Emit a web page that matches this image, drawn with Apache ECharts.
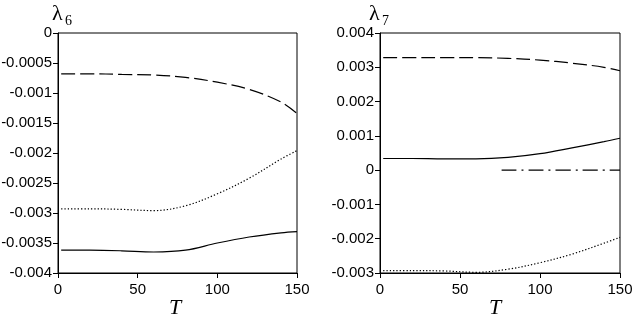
<!DOCTYPE html>
<html>
<head>
<meta charset="utf-8">
<script src="https://cdn.jsdelivr.net/npm/echarts@6/dist/echarts.min.js"></script>
<style>
  html, body { margin: 0; padding: 0; background: #fff; }
</style>
</head>
<body>
<div id="myChart" style="width: 632px; height: 328px;"></div>
<script>
// sample points along T
const tValues = [2, 20, 40, 60, 80, 100, 120, 140, 150];

// lambda 6 panel
const l6Dashed = [-0.00068, -0.00068, -0.00069, -0.0007, -0.00074, -0.00082, -0.00094, -0.00115, -0.00134];
const l6Dotted = [-0.00293, -0.00293, -0.00294, -0.00296, -0.00288, -0.00268, -0.00242, -0.0021, -0.00196];
const l6Solid = [-0.00362, -0.00362, -0.00363, -0.00365, -0.00362, -0.0035, -0.0034, -0.00333, -0.00331];

// lambda 7 panel
const l7Dashed = [0.00328, 0.00328, 0.00328, 0.00328, 0.00326, 0.00321, 0.00312, 0.003, 0.0029];
const l7Solid = [0.00034, 0.00034, 0.00033, 0.00033, 0.00037, 0.00048, 0.00065, 0.00083, 0.00093];
const l7Dotted = [-0.00293, -0.00293, -0.00294, -0.00298, -0.00289, -0.0027, -0.00245, -0.00213, -0.00196];
const dashDotT = [76, 150];
const dashDotVals = [0, 0];

// axis ticks
const xTicks = { min: 0, max: 150, interval: 50 };
const l6Ticks = { min: -0.004, max: 0, interval: 0.0005 };
const l7Ticks = { min: -0.003, max: 0.004, interval: 0.001 };

function pairs(xs, ys) {
  return xs.map((x, i) => [x, ys[i]]);
}

const labelFont = {
  color: '#000',
  fontSize: 15,
  fontFamily: 'Liberation Sans',
};

function xAxis(gridIndex) {
  return {
    type: 'value',
    gridIndex: gridIndex,
    min: xTicks.min,
    max: xTicks.max,
    interval: xTicks.interval,
    axisLine: { show: true, onZero: false, lineStyle: { color: '#000', width: 1 } },
    axisTick: { show: true, length: 5, lineStyle: { color: '#000' } },
    axisLabel: Object.assign({ margin: 9 }, labelFont),
    splitLine: { show: false },
  };
}

function yAxis(gridIndex, ticks) {
  return {
    type: 'value',
    gridIndex: gridIndex,
    min: ticks.min,
    max: ticks.max,
    interval: ticks.interval,
    axisLine: { show: true, onZero: false, lineStyle: { color: '#000', width: 1 } },
    axisTick: { show: true, length: 5, lineStyle: { color: '#000' } },
    axisLabel: Object.assign({ margin: 6 }, labelFont),
    splitLine: { show: false },
  };
}

function line(name, xIdx, data, type) {
  return {
    name: name,
    type: 'line',
    xAxisIndex: xIdx,
    yAxisIndex: xIdx,
    data: data,
    smooth: 0.35,
    symbol: 'none',
    lineStyle: { color: '#000', width: 1.2, type: type },
    z: 3,
  };
}

const mychart = echarts.init(document.getElementById('myChart'));
const serif = 'Liberation Serif';
const options = {
  animation: false,
  backgroundColor: '#fff',
  grid: [
    { left: 58, top: 33, width: 239, height: 240, show: true, borderColor: '#000', borderWidth: 1, containLabel: false, outerBoundsMode: 'none' },
    { left: 380, top: 33, width: 240, height: 240, show: true, borderColor: '#000', borderWidth: 1, containLabel: false, outerBoundsMode: 'none' },
  ],
  xAxis: [xAxis(0), xAxis(1)],
  yAxis: [yAxis(0, l6Ticks), yAxis(1, l7Ticks)],
  graphic: [
    { type: 'text', left: 52, top: 3, style: { text: 'λ', font: '22px ' + serif, fill: '#000' } },
    { type: 'text', left: 65, top: 14, style: { text: '6', font: '14px ' + serif, fill: '#000' } },
    { type: 'text', left: 369, top: 3, style: { text: 'λ', font: '22px ' + serif, fill: '#000' } },
    { type: 'text', left: 382, top: 14, style: { text: '7', font: '14px ' + serif, fill: '#000' } },
    { type: 'text', left: 169, top: 297, style: { text: 'T', font: 'italic 22px ' + serif, fill: '#000' } },
    { type: 'text', left: 489, top: 297, style: { text: 'T', font: 'italic 22px ' + serif, fill: '#000' } },
  ],
  series: [
    line('l6 dashed', 0, pairs(tValues, l6Dashed), [14, 5]),
    line('l6 dotted', 0, pairs(tValues, l6Dotted), [1.3, 2]),
    line('l6 solid', 0, pairs(tValues, l6Solid), 'solid'),
    line('l7 dashed', 1, pairs(tValues, l7Dashed), [14, 5]),
    line('l7 solid', 1, pairs(tValues, l7Solid), 'solid'),
    line('l7 dotted', 1, pairs(tValues, l7Dotted), [1.3, 2]),
    line('l7 dashdot', 1, pairs(dashDotT, dashDotVals), [15, 5, 2, 5]),
  ],
};
mychart.setOption(options);
</script>
</body>
</html>
